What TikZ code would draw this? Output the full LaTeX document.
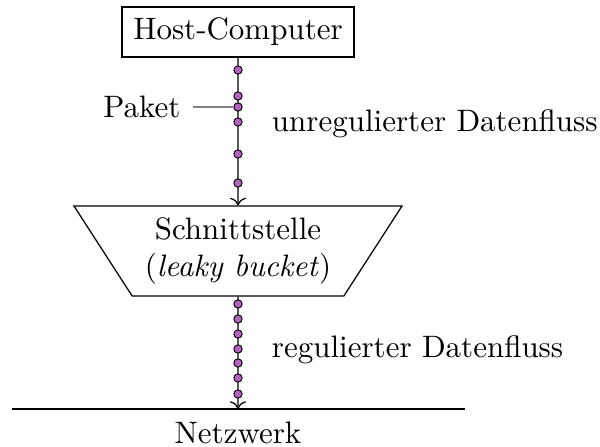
\documentclass[tikz,border=0pt]{standalone}
\usetikzlibrary{positioning, shapes.geometric, arrows.meta}

\definecolor{paketfarbe}{RGB}{178,98,190}

\begin{document}
\begin{tikzpicture}[
    x=0.3226pt, y=-0.3226pt,
    box/.style={draw, rectangle, inner sep=3.6pt},
    bucket/.style={
        draw, trapezium, shape border rotate=180,
        trapezium angle=49, trapezium stretches body,
        minimum width=105.8pt, minimum height=29pt,
        align=center, inner sep=0pt
    },
    paket/.style={circle, draw, fill=paketfarbe, line width=0.3pt,
        inner sep=0pt, minimum size=2.7pt},
    flow/.style={->, thin},
    label/.style={font=\normalsize}
]
\useasboundingbox (0,0) rectangle (600,447);

% --- Knoten ---
\node[box] (Host) at (238,32) {Host-Computer};
\node[bucket] (Bucket) at (238,251) {Schnittstelle\\(\textit{leaky bucket})};
\node (Netzwerk) at (238,433) {Netzwerk};

% --- Netzwerk-Linie ---
\coordinate (NetzL) at (12,409);
\coordinate (NetzR) at (465,409);
\coordinate (NetzM) at (238,409);
\draw (NetzL) -- (NetzR);

% --- Datenfluss ---
\draw[flow] (Host.south) -- (Bucket.north);
\draw[flow] (Bucket.south) -- (NetzM);

% --- Pakete (unreguliert) ---
\foreach \y [count=\i] in {70,96,107,122,154,183}
    \node[paket] (oben\i) at (238,\y) {};

% --- Pakete (reguliert) ---
\foreach \y [count=\i] in {304,319,334,349,363,378,394}
    \node[paket] (unten\i) at (238,\y) {};

% --- Beschriftungen ---
\node[label] (Paket) at (142,107) {Paket};
\draw[gray, thin] (193,107) -- (oben3.west);
\node[label, anchor=west] (unreg) at (261,124) {unregulierter Datenfluss};
\node[label, anchor=west] (reg) at (261,350) {regulierter Datenfluss};

\end{tikzpicture}
\end{document}
